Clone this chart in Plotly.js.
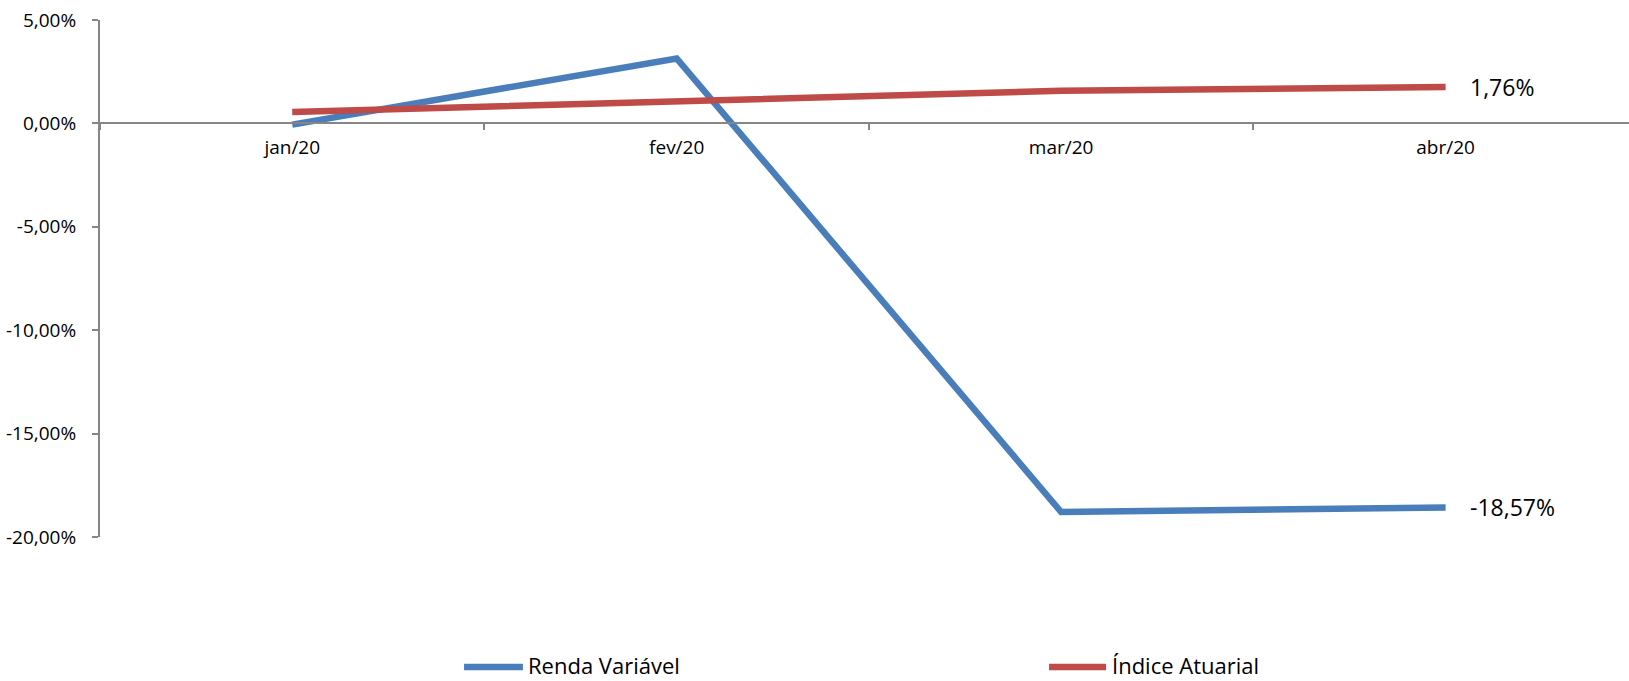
<!DOCTYPE html>
<html>
<head>
<meta charset="utf-8">
<script src="https://cdn.plot.ly/plotly-3.0.1.min.js"></script>
<style>html,body{margin:0;padding:0;background:#fff;}#chart{width:1629px;height:681px;}</style>
</head>
<body>
<div id="chart"></div>
<script>
const months = ['jan/20', 'fev/20', 'mar/20', 'abr/20'];
const rendaVariavel = [-0.06, 3.14, -18.79, -18.57];
const indiceAtuarial = [0.55, 1.10, 1.58, 1.76];
const seriesNames = ['Renda Variável', 'Índice Atuarial'];
const yTickVals = [5, 0, -5, -10, -15, -20];
const yTickText = ['5,00%', '0,00%', '-5,00%', '-10,00%', '-15,00%', '-20,00%'];

const FONT = 'Open Sans, Liberation Sans, sans-serif';
const COLORS = ['#4A7EBB', '#BE4B48'];
const AXIS = '#868686';

function fmt(v) { return v.toFixed(2).replace('.', ',') + '%'; }

const seriesData = [rendaVariavel, indiceAtuarial];
const traces = seriesData.map((vals, i) => ({
  x: months, y: vals, type: 'scatter', mode: 'lines',
  name: seriesNames[i],
  line: {color: COLORS[i], width: 6.5},
  hovertemplate: '%{x}: %{y:.2f}%<extra>' + seriesNames[i] + '</extra>'
}));

const last = months.length - 1;

// Custom legend (line sample + label) placed below the plot, in paper coordinates
const legendLineY = -0.2515;
const legendTextY = -0.2476;
const legendItems = [
  {x0: 0.2381, x1: 0.2766, tx: 0.2785},
  {x0: 0.6207, x1: 0.6580, tx: 0.6606}
];
const shapes = legendItems.map((it, i) => ({
  type: 'line', xref: 'paper', yref: 'paper',
  x0: it.x0, x1: it.x1, y0: legendLineY, y1: legendLineY,
  line: {color: COLORS[i], width: 6.5}
}));
const legendLabels = legendItems.map((it, i) => ({
  x: it.tx, y: legendTextY, xref: 'paper', yref: 'paper', text: seriesNames[i],
  showarrow: false, xanchor: 'left', yanchor: 'middle',
  font: {family: FONT, size: 22, color: '#000'}
}));

const layout = {
  width: 1629, height: 681,
  margin: {l: 100, r: 0, t: 20, b: 144},
  paper_bgcolor: '#ffffff', plot_bgcolor: 'rgba(0,0,0,0)',
  font: {family: FONT, color: '#000'},
  showlegend: false,
  xaxis: {
    type: 'category', range: [-0.5, 3.477],
    anchor: 'free', position: 0.8,
    showline: true, linecolor: AXIS, linewidth: 2,
    ticks: 'outside', tickson: 'boundaries', ticklen: 6, tickcolor: AXIS, tickwidth: 2,
    showgrid: false, zeroline: false,
    tickfont: {family: FONT, size: 19, color: '#000'},
    ticklabelstandoff: 7
  },
  yaxis: {
    range: [-20, 5],
    showline: true, linecolor: AXIS, linewidth: 2,
    ticks: 'outside', ticklen: 6, tickcolor: AXIS, tickwidth: 2,
    tickvals: yTickVals, ticktext: yTickText,
    showgrid: false, zeroline: false,
    tickfont: {family: FONT, size: 19, color: '#000'},
    ticklabelstandoff: 12
  },
  shapes: shapes,
  annotations: [
    {x: months[last], y: indiceAtuarial[last], xref: 'x', yref: 'y', text: fmt(indiceAtuarial[last]),
     showarrow: false, xanchor: 'left', yanchor: 'middle', xshift: 22,
     font: {family: FONT, size: 23, color: '#000'}},
    {x: months[last], y: rendaVariavel[last], xref: 'x', yref: 'y', text: fmt(rendaVariavel[last]),
     showarrow: false, xanchor: 'left', yanchor: 'middle', xshift: 22,
     font: {family: FONT, size: 23, color: '#000'}}
  ].concat(legendLabels)
};

Plotly.newPlot('chart', traces, layout, {displayModeBar: false, responsive: false});
</script>
</body>
</html>
